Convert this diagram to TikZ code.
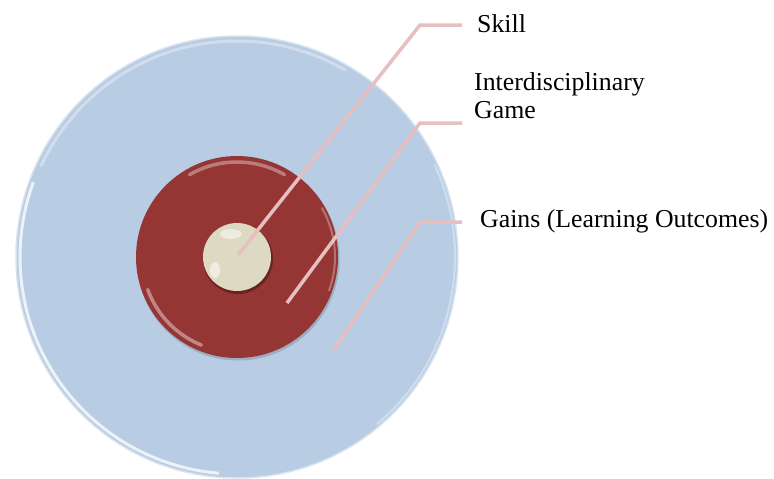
\documentclass[tikz,border=0pt]{standalone}
\usepackage{fontspec}
\setmainfont{Liberation Serif}
\definecolor{ringblue}{RGB}{184,204,228}
\definecolor{ringred}{RGB}{149,54,52}
\definecolor{corecream}{RGB}{221,217,195}
\definecolor{leaderpink}{RGB}{230,192,192}

\begin{document}
\begin{tikzpicture}[x=1pt, y=-1pt,
  disc/.style={circle, inner sep=0pt},
  leader/.style={draw=leaderpink, line width=3.5pt},
  legend/.style={anchor=base west, inner sep=0pt, align=left,
    font=\rmfamily\fontsize{25.8}{27.5}\selectfont},
  shine/.style={white, line cap=round}]
\useasboundingbox (0,0) rectangle (774,479);

% outer disc with its light rim
\node[disc, fill=ringblue, draw=white!45!ringblue, line width=1.5pt, minimum size=442pt] (gains) at (237,257) {};
\draw[shine, opacity=.75, line width=3pt] (gains.center) ++(95:217) arc[start angle=95, end angle=200, radius=217];
\draw[shine, opacity=.35, line width=3pt] (gains.center) ++(205:216) arc[start angle=205, end angle=300, radius=216];
\draw[shine, opacity=.35, line width=2pt] (gains.center) ++(-25:218) arc[start angle=-25, end angle=50, radius=218];

% middle disc
\fill[black!50!ringblue, opacity=.3] (238,259) circle (101.5);
\node[disc, fill=ringred, minimum size=202pt] (game) at (237,257) {};
\draw[shine, opacity=.35, line width=3.5pt] (game.center) ++(240:95) arc[start angle=240, end angle=300, radius=95];
\draw[shine, opacity=.4, line width=3.5pt] (game.center) ++(112:95) arc[start angle=112, end angle=160, radius=95];
\draw[shine, opacity=.3, line width=2pt] (game.center) ++(-30:98) arc[start angle=-30, end angle=20, radius=98];

% inner core
\fill[black!70!ringred, opacity=.45] (238,259) circle (35);
\node[disc, fill=corecream, minimum size=68pt] (skillcore) at (237,257) {};
\fill[white, opacity=.5] (231,234) ellipse (11 and 5);
\fill[white, opacity=.55] (215,270) ellipse (5 and 8);

% leader lines
\coordinate (skillend) at (238,255);
\coordinate (skillbend) at (420,25);
\coordinate (skilltip) at (462,25);
\coordinate (gameend) at (287,303);
\coordinate (gamebend) at (420,123);
\coordinate (gametip) at (462,123);
\coordinate (gainsend) at (334,350);
\coordinate (gainsbend) at (420,222);
\coordinate (gainstip) at (462,222);
\draw[leader] (skillend) -- (skillbend) -- (skilltip);
\draw[leader] (gameend) -- (gamebend) -- (gametip);
\draw[leader] (gainsend) -- (gainsbend) -- (gainstip);

% labels
\node[legend] (skill) at (477,32) {Skill};
\node[legend] (gamelabel) at (474,118) {Interdisciplinary\\Game};
\node[legend] (gainslabel) at (480,227) {Gains (Learning Outcomes)};
\end{tikzpicture}
\end{document}
